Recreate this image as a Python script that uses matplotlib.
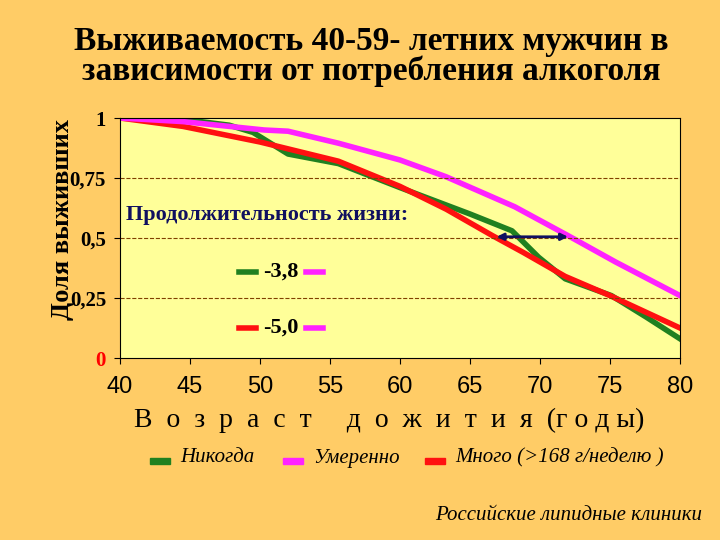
import matplotlib
matplotlib.use("Agg")
import matplotlib.pyplot as plt

age_g = [40, 43.7, 47.8, 49.5, 52, 55.6, 60, 65, 68, 69.9, 71.8, 75.1, 77.6, 80]
never = [1, 1.0, 0.97, 0.94, 0.85, 0.81, 0.71, 0.60, 0.53, 0.42, 0.33, 0.26, 0.17, 0.08]
age_r = [40, 44.5, 50, 55.6, 60, 63.3, 66.6, 68.8, 71.8, 75, 80]
heavy = [1, 0.965, 0.90, 0.82, 0.715, 0.62, 0.51, 0.44, 0.34, 0.26, 0.125]
age_m = [40, 44.5, 50.3, 52, 55.6, 60, 63.3, 68.2, 72, 75.4, 80]
moderate = [1, 0.985, 0.95, 0.945, 0.895, 0.825, 0.755, 0.63, 0.51, 0.40, 0.26]
yticks = [0, 0.25, 0.5, 0.75, 1]
ylabels = ["0", "0,25", "0,5", "0,75", "1"]
xticks = [40, 45, 50, 55, 60, 65, 70, 75, 80]

plt.rcParams['font.family'] = ['Liberation Serif']
fig = plt.figure(figsize=(7.2, 5.4), dpi=100, facecolor='#FFCC66')
ax = fig.add_axes([120/720, 1-358/540, 560/720, 240/540], facecolor='#FFFF99')
ax.plot(age_g, never, color='#208020', lw=4)
ax.plot(age_r, heavy, color='#FF1010', lw=4)
ax.plot(age_m, moderate, color='#FF22FF', lw=4)
ax.set_xlim(40, 80); ax.set_ylim(0, 1)
for y in [0.25, 0.5, 0.75]:
    ax.axhline(y, color='#804000', ls='--', lw=0.8)
ax.set_yticks(yticks); ax.set_yticklabels(ylabels, fontsize=15, fontweight='bold')
ax.get_yticklabels()[0].set_color('red')
ax.set_xticks(xticks); ax.set_xticklabels([str(x) for x in xticks], family='Liberation Sans', fontsize=17)
ax.tick_params(axis='y', length=4, direction='out', pad=6)
ax.tick_params(axis='x', length=4, direction='out', pad=9)
ax.annotate('', xy=(66.7, 0.505), xytext=(72.2, 0.505),
            arrowprops=dict(arrowstyle='<|-|>', color='#101060', lw=2))
ax.text(40.4, 0.575, 'Продолжительность жизни:', fontsize=16, fontweight='bold', color='#101060')
ax.plot([48.5, 49.7], [0.36, 0.36], color='#208020', lw=4)
ax.text(50.2, 0.36, '-3,8', fontsize=16, fontweight='bold', va='center')
ax.plot([53.3, 54.5], [0.36, 0.36], color='#FF22FF', lw=4)
ax.plot([48.5, 49.7], [0.125, 0.125], color='#FF1010', lw=4)
ax.text(50.2, 0.125, '-5,0', fontsize=16, fontweight='bold', va='center')
ax.plot([53.3, 54.5], [0.125, 0.125], color='#FF22FF', lw=4)

fig.text(0.515, 0.895, 'Выживаемость 40-59- летних мужчин в\nзависимости от потребления алкоголя',
         ha='center', va='center', fontsize=24, fontweight='bold', linespacing=0.95)
fig.text(62/720, 1-220/540, 'Доля выживших', rotation=90, ha='center', va='center', fontsize=19, fontweight='bold')
fig.text(0.54, 1-420/540, 'В  о  з  р  а  с  т     д  о  ж  и  т  и  я  (г о д ы)', ha='center', va='center', fontsize=20)
legend_items = [(150, '#208020', 'Никогда'), (283, '#FF22FF', 'Умеренно'), (425, '#FF1010', 'Много (>168 г/неделю )')]
for x, c, t in legend_items:
    fig.patches.append(plt.Rectangle((x/720, 1-464/540), 20/720, 6/540, color=c, transform=fig.transFigure))
    fig.text((x+30)/720, 1-458/540, t, fontsize=15, style='italic', va='center')
fig.text(0.975, 0.045, 'Российские липидные клиники', ha='right', va='center', fontsize=15, style='italic')
fig.savefig('out.png', facecolor=fig.get_facecolor())
